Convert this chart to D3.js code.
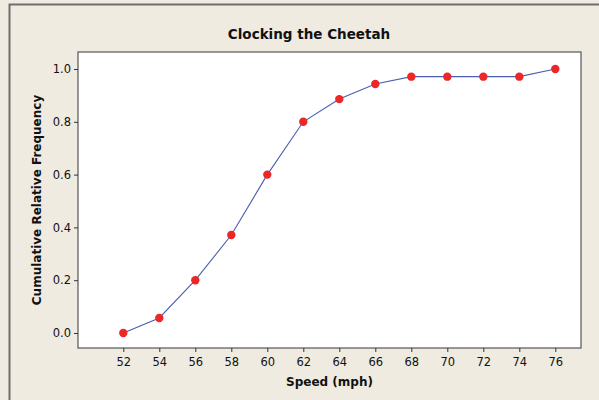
<!DOCTYPE html>
<html><head><meta charset="utf-8">
<script src="https://cdn.jsdelivr.net/npm/d3@7"></script>
<style>
html,body{margin:0;padding:0;background:#efebe1;}
svg{display:block;}
</style></head>
<body>
<svg id="c" width="599" height="400"></svg>
<script>
const speeds = [52, 54, 56, 58, 60, 62, 64, 66, 68, 70, 72, 74, 76];
const cumRelFreq = [0.0, 0.057, 0.2, 0.371, 0.6, 0.8, 0.886, 0.943, 0.971, 0.971, 0.971, 0.971, 1.0];
const xTicks = [52, 54, 56, 58, 60, 62, 64, 66, 68, 70, 72, 74, 76];
const yTicks = [0.0, 0.2, 0.4, 0.6, 0.8, 1.0];
const title = "Clocking the Cheetah";
const xLabel = "Speed (mph)";
const yLabel = "Cumulative Relative Frequency";

const svg = d3.select("#c");
const font = "'DejaVu Sans', Verdana, sans-serif";
const plot = {left: 78, top: 52, right: 581, bottom: 348};

// outer frame
svg.append("rect").attr("x", 9.5).attr("y", 4.5).attr("width", 620).attr("height", 420)
  .attr("fill", "#efebe1").attr("stroke", "#6e6e6e").attr("stroke-width", 2);

const x = d3.scaleLinear().domain([52, 76]).range([123.3, 555.3]);
const y = d3.scaleLinear().domain([0, 1]).range([333, 69]);

svg.append("rect").attr("x", plot.left).attr("y", plot.top)
  .attr("width", plot.right - plot.left).attr("height", plot.bottom - plot.top)
  .attr("fill", "#ffffff").attr("stroke", "#555555").attr("stroke-width", 1.2);

const xAxis = svg.append("g").attr("transform", `translate(0,${plot.bottom})`)
  .call(d3.axisBottom(x).tickValues(xTicks).tickFormat(d3.format("d")).tickSize(4).tickSizeOuter(0).tickPadding(6));
xAxis.select(".domain").remove();
const yAxis = svg.append("g").attr("transform", `translate(${plot.left},0)`)
  .call(d3.axisLeft(y).tickValues(yTicks).tickFormat(d3.format(".1f")).tickSize(4).tickSizeOuter(0).tickPadding(3));
yAxis.select(".domain").remove();
svg.selectAll(".tick line").attr("stroke", "#333");
svg.selectAll(".tick text").attr("font-family", font).attr("font-size", 11.5).attr("fill", "#111");

const line = d3.line().x((d, i) => x(speeds[i])).y(d => y(d));
svg.append("path").datum(cumRelFreq).attr("d", line)
  .attr("fill", "none").attr("stroke", "#4a5fb0").attr("stroke-width", 1.1);

svg.selectAll("circle.pt").data(cumRelFreq).enter().append("circle")
  .attr("class", "pt")
  .attr("cx", (d, i) => x(speeds[i])).attr("cy", d => y(d)).attr("r", 4.2)
  .attr("fill", "#ec2727");

svg.append("text").attr("x", 309).attr("y", 39).attr("text-anchor", "middle")
  .attr("font-family", font).attr("font-weight", "bold").attr("font-size", 13.5)
  .attr("fill", "#111").text(title);

svg.append("text").attr("x", (plot.left + plot.right) / 2).attr("y", 386).attr("text-anchor", "middle")
  .attr("font-family", font).attr("font-weight", "bold").attr("font-size", 12)
  .attr("fill", "#111").text(xLabel);

svg.append("text").attr("transform", `translate(41,${(plot.top + plot.bottom) / 2}) rotate(-90)`)
  .attr("text-anchor", "middle")
  .attr("font-family", font).attr("font-weight", "bold").attr("font-size", 12)
  .attr("fill", "#111").text(yLabel);
</script>
</body></html>
